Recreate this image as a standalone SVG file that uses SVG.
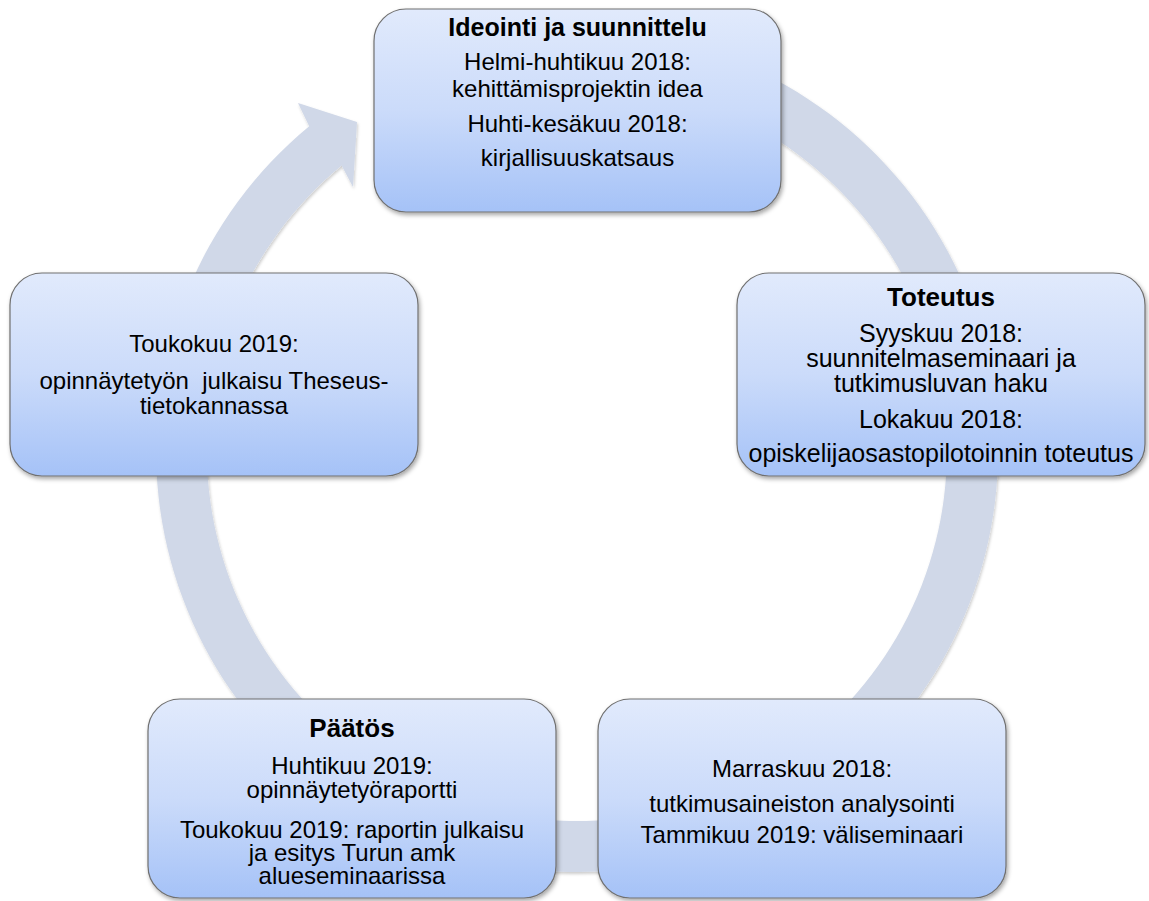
<svg xmlns="http://www.w3.org/2000/svg" width="1149" height="901" viewBox="0 0 1149 901">
<defs>
<linearGradient id="boxGrad" x1="0" y1="0" x2="0" y2="1">
<stop offset="0" stop-color="#E1EAFC"/>
<stop offset="0.5" stop-color="#CBDBFA"/>
<stop offset="1" stop-color="#A5C2F7"/>
</linearGradient>
<filter id="shadow" x="-10%" y="-10%" width="120%" height="125%">
<feDropShadow dx="1.5" dy="2.5" stdDeviation="2" flood-color="#000" flood-opacity="0.35"/>
</filter>
<filter id="ringShadow" x="-10%" y="-10%" width="120%" height="120%">
<feDropShadow dx="1" dy="2" stdDeviation="1.5" flood-color="#000" flood-opacity="0.2"/>
</filter>
</defs>
<style>
.box{fill:url(#boxGrad);stroke:#707070;stroke-width:1.2;filter:url(#shadow);}
.t{font-family:"Liberation Sans",Arial,sans-serif;font-size:24px;fill:#000;text-anchor:middle;}
.h{font-family:"Liberation Sans",Arial,sans-serif;font-size:26px;font-weight:bold;fill:#000;text-anchor:middle;}
.ring{fill:#D0D8E8;filter:url(#ringShadow);}
</style>
<rect width="1149" height="901" fill="#fff"/>
<g id="connectors">
<path class="ring" d="M 433,55.4 A 421 421 0 1 1 309.2,126.2 L 298,103 L 357,122 L 353,187 L 341.6,165.5 A 370 370 0 1 0 450.5,103.3 Z"/>
</g>
<g id="node-ideointi">
<rect class="box" x="374" y="9" width="407" height="203" rx="32"/>
<text class="h" x="577.5" y="36" style="font-size:25px">Ideointi ja suunnittelu</text>
<text class="t" x="577.5" y="70">Helmi-huhtikuu 2018:</text>
<text class="t" x="577.5" y="97">kehittämisprojektin idea</text>
<text class="t" x="577.5" y="132">Huhti-kesäkuu 2018:</text>
<text class="t" x="577.5" y="166">kirjallisuuskatsaus</text>
</g>
<g id="node-toteutus">
<rect class="box" x="737" y="273" width="408" height="203" rx="32"/>
<text class="h" x="941" y="306">Toteutus</text>
<text class="t" x="941" y="342" style="font-size:25px">Syyskuu 2018:</text>
<text class="t" x="941" y="367" style="font-size:25px">suunnitelmaseminaari ja</text>
<text class="t" x="941" y="392" style="font-size:25px">tutkimusluvan haku</text>
<text class="t" x="941" y="428" style="font-size:25px">Lokakuu 2018:</text>
<text class="t" x="941" y="462" style="font-size:25px">opiskelijaosastopilotoinnin toteutus</text>
</g>
<g id="node-marraskuu">
<rect class="box" x="598" y="699" width="408" height="199" rx="32"/>
<text class="t" x="802" y="777">Marraskuu 2018:</text>
<text class="t" x="802" y="812">tutkimusaineiston analysointi</text>
<text class="t" x="802" y="843">Tammikuu 2019: väliseminaari</text>
</g>
<g id="node-paatos">
<rect class="box" x="148" y="699" width="408" height="199" rx="32"/>
<text class="h" x="352" y="737">Päätös</text>
<text class="t" x="352" y="774">Huhtikuu 2019:</text>
<text class="t" x="352" y="798">opinnäytetyöraportti</text>
<text class="t" x="352" y="838">Toukokuu 2019: raportin julkaisu</text>
<text class="t" x="352" y="861">ja esitys Turun amk</text>
<text class="t" x="352" y="884">alueseminaarissa</text>
</g>
<g id="node-toukokuu">
<rect class="box" x="10" y="273" width="408" height="203" rx="32"/>
<text class="t" x="214" y="352">Toukokuu 2019:</text>
<text class="t" x="214" y="389" xml:space="preserve">opinnäytetyön  julkaisu Theseus-</text>
<text class="t" x="214" y="414">tietokannassa</text>
</g>
</svg>
